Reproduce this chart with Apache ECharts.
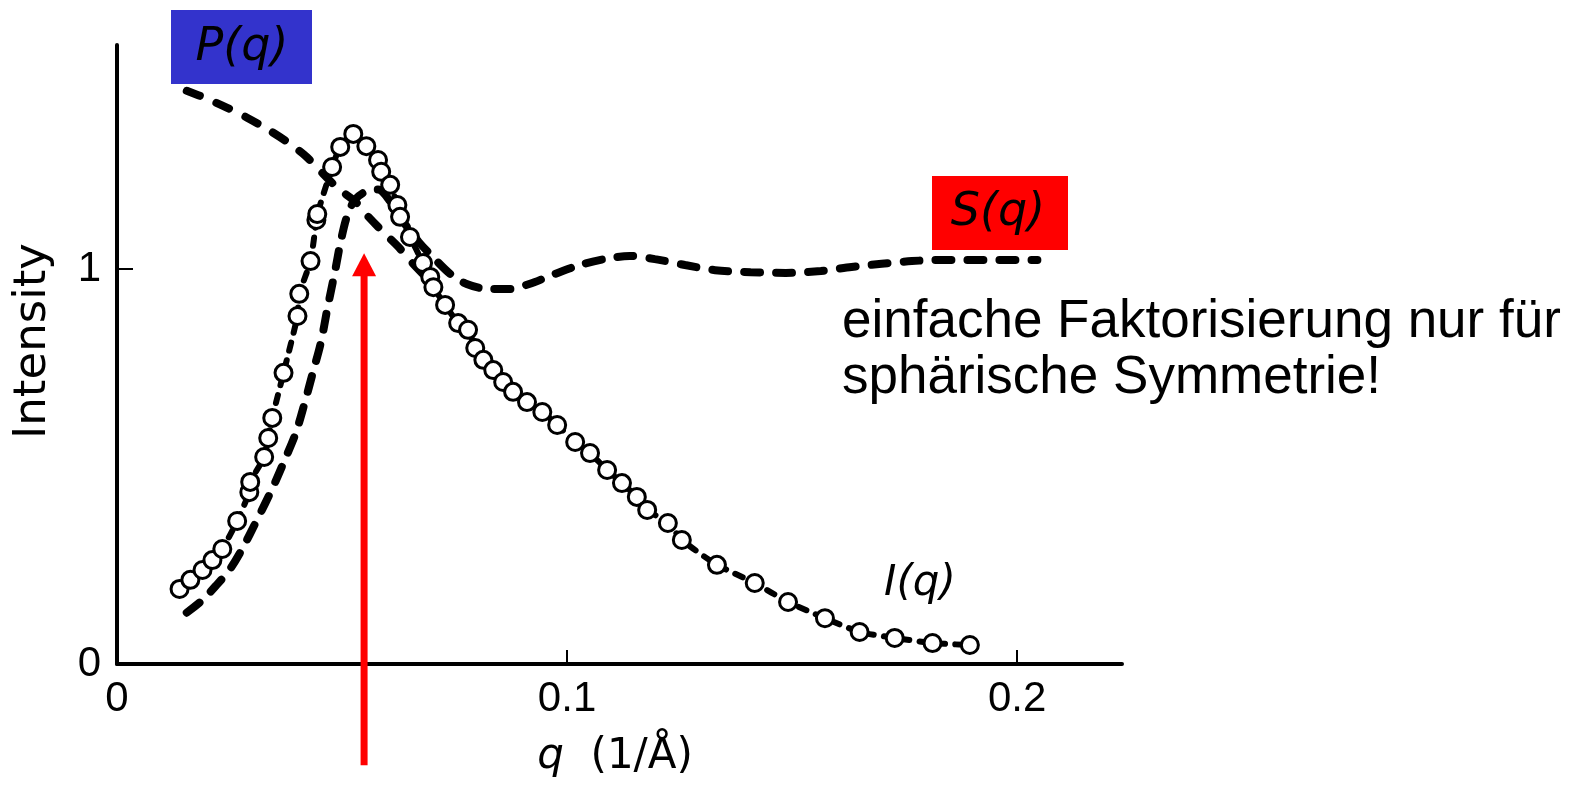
<!DOCTYPE html>
<html>
<head>
<meta charset="utf-8">
<script src="https://cdn.jsdelivr.net/npm/echarts@6/dist/echarts.min.js"></script>
<style>
  html, body { margin: 0; padding: 0; background: #ffffff; }
  #chart { width: 1580px; height: 787px; }
</style>
</head>
<body>
<div id="chart"></div>
<script>
// Measured scattering intensity I(q) (open circles)
const measQ = [0.0139, 0.0163, 0.0190, 0.0212, 0.0234, 0.0267, 0.0294, 0.0296, 0.0327, 0.0336,
  0.0345, 0.0370, 0.0401, 0.0405, 0.0430, 0.0443, 0.0445, 0.0478, 0.0496, 0.0525,
  0.0554, 0.0580, 0.0587, 0.0607, 0.0623, 0.0629, 0.0651, 0.0680, 0.0696, 0.0703,
  0.0729, 0.0758, 0.0780, 0.0796, 0.0814, 0.0836, 0.0858, 0.0880, 0.0911, 0.0945,
  0.0978, 0.1018, 0.1051, 0.1089, 0.1122, 0.1155, 0.1178, 0.1224, 0.1255, 0.1333,
  0.1417, 0.1491, 0.1573, 0.1650, 0.1728, 0.1812, 0.1895];
const measI = [0.190, 0.213, 0.238, 0.263, 0.291, 0.362, 0.435, 0.461, 0.524, 0.572,
  0.623, 0.737, 0.881, 0.937, 1.020, 1.124, 1.139, 1.258, 1.309, 1.342,
  1.311, 1.276, 1.246, 1.213, 1.162, 1.132, 1.081, 1.015, 0.980, 0.954,
  0.909, 0.863, 0.846, 0.800, 0.770, 0.744, 0.714, 0.689, 0.663, 0.638,
  0.605, 0.562, 0.534, 0.491, 0.458, 0.423, 0.390, 0.357, 0.314, 0.251,
  0.205, 0.157, 0.116, 0.081, 0.066, 0.053, 0.048];

// Form factor P(q) (dashed, decreasing)
const formQ = [0.0155, 0.0200, 0.0245, 0.0289, 0.0334, 0.0379, 0.0419, 0.0457, 0.0491, 0.0529,
  0.0558, 0.0591, 0.0625, 0.0658, 0.0690];
const formP = [1.451, 1.431, 1.408, 1.383, 1.354, 1.321, 1.286, 1.242, 1.204, 1.171,
  1.133, 1.094, 1.056, 1.013, 0.975];

// Structure factor S(q) (dashed, peak then oscillating about 1)
const structQ = [0.0155, 0.0189, 0.0222, 0.0251, 0.0278, 0.0312, 0.0345, 0.0374, 0.0397, 0.0417,
  0.0435, 0.0453, 0.0468, 0.0484, 0.0497, 0.0511, 0.0529, 0.0553, 0.0580, 0.0607,
  0.0636, 0.0670, 0.0708, 0.0741, 0.0777, 0.0826, 0.0871, 0.0916, 0.0972, 0.1028,
  0.1083, 0.1139, 0.1195, 0.1262, 0.1329, 0.1408, 0.1486, 0.1564, 0.1632, 0.1699,
  0.1766, 0.1833, 0.1911, 0.1978, 0.2045];
const structS = [0.130, 0.161, 0.201, 0.240, 0.291, 0.367, 0.444, 0.520, 0.584, 0.661,
  0.737, 0.814, 0.903, 0.992, 1.069, 1.133, 1.176, 1.196, 1.201, 1.171,
  1.120, 1.069, 1.023, 0.987, 0.962, 0.949, 0.949, 0.962, 0.987, 1.010,
  1.025, 1.033, 1.025, 1.010, 0.997, 0.992, 0.990, 0.995, 1.005, 1.013,
  1.020, 1.023, 1.023, 1.023, 1.023];

// Axis tick values
const xTicks = [0.1, 0.2];
const xLabels = [0, 0.1, 0.2];
const yTicks = [1];
const yLabels = [0, 1];

// Peak position marker (red arrow), in data units
const peakQ = 0.0549;
const arrowFrom = -0.256;
const arrowTo = 1.04;

const zip = (a, b) => a.map((v, i) => [v, b[i]]);

const tickFont = "'Liberation Sans', Arial, sans-serif";
const chart = echarts.init(document.getElementById('chart'), null, { renderer: 'canvas' });

chart.setOption({
  animation: false,
  backgroundColor: '#ffffff',
  grid: { left: 117, top: 45, width: 1005, height: 619, containLabel: false },
  xAxis: {
    type: 'value', min: 0, max: 0.2233,
    axisLine: { show: true, lineStyle: { color: '#000', width: 4 } },
    axisTick: { show: true, inside: true, length: 14, customValues: xTicks, lineStyle: { color: '#000', width: 2 } },
    axisLabel: { customValues: xLabels, margin: 14, color: '#000', fontSize: 42, fontFamily: tickFont,
      formatter: v => String(v) },
    splitLine: { show: false }
  },
  yAxis: {
    type: 'value', min: 0, max: 1.567,
    axisLine: { show: true, lineStyle: { color: '#000', width: 4 } },
    axisTick: { show: true, inside: true, length: 16, customValues: yTicks, lineStyle: { color: '#000', width: 2 } },
    axisLabel: { customValues: yLabels, margin: 16, color: '#000', fontSize: 42, fontFamily: tickFont,
      formatter: v => String(v) },
    splitLine: { show: false }
  },
  series: [
    {
      name: 'P(q)', type: 'line', data: zip(formQ, formP), smooth: 0.3,
      showSymbol: false, z: 2,
      lineStyle: { color: '#000', width: 8, type: [14, 18], cap: 'round' }
    },
    {
      name: 'S(q)', type: 'line', data: zip(structQ, structS), smooth: 0.3,
      showSymbol: false, z: 2,
      lineStyle: { color: '#000', width: 8, type: [16, 16], cap: 'round' }
    },
    {
      name: 'I(q)', type: 'line', data: zip(measQ, measI), smooth: 0.2,
      symbol: 'circle', symbolSize: 17, showAllSymbol: true, z: 3,
      itemStyle: { color: '#ffffff', borderColor: '#000', borderWidth: 3 },
      lineStyle: { color: '#000', width: 6, type: [8, 10], cap: 'round' }
    }
  ]
});

// Annotations drawn on top of the plot
function drawAnnotations() {
  const base = chart.convertToPixel({ gridIndex: 0 }, [peakQ, arrowFrom]);
  const tip = chart.convertToPixel({ gridIndex: 0 }, [peakQ, arrowTo]);
  const headH = 23, headW = 12;
  chart.setOption({
    graphic: [
      { type: 'line', z: 10, shape: { x1: base[0], y1: base[1], x2: tip[0], y2: tip[1] + headH - 2 },
        style: { stroke: '#ff0000', lineWidth: 7 } },
      { type: 'polygon', z: 10, shape: { points: [[tip[0], tip[1]], [tip[0] - headW, tip[1] + headH], [tip[0] + headW, tip[1] + headH]] },
        style: { fill: '#ff0000' } },
      { type: 'rect', z: 10, shape: { x: 171, y: 10, width: 141, height: 74 }, style: { fill: '#3333cc' } },
      { type: 'text', z: 11, x: 242, y: 48, style: { text: 'P(q)', fill: '#000', font: "italic 46px 'Liberation Sans Narrow', 'DejaVu Sans', sans-serif", align: 'center', verticalAlign: 'middle' } },
      { type: 'rect', z: 10, shape: { x: 932, y: 176, width: 136, height: 74 }, style: { fill: '#ff0000' } },
      { type: 'text', z: 11, x: 998, y: 213, style: { text: 'S(q)', fill: '#000', font: "italic 46px 'Liberation Sans Narrow', 'DejaVu Sans', sans-serif", align: 'center', verticalAlign: 'middle' } },
      { type: 'text', z: 11, x: 920, y: 584, style: { text: 'I(q)', fill: '#000', font: "italic 42px 'Liberation Sans Narrow', 'DejaVu Sans', sans-serif", align: 'center', verticalAlign: 'middle' } },
      { type: 'text', z: 11, x: 842, y: 322, style: { text: 'einfache Faktorisierung nur für', fill: '#000', font: "53px 'Liberation Sans', Arial, sans-serif", align: 'left', verticalAlign: 'middle' } },
      { type: 'text', z: 11, x: 842, y: 378, style: { text: 'sphärische Symmetrie!', fill: '#000', font: "53px 'Liberation Sans', Arial, sans-serif", align: 'left', verticalAlign: 'middle' } },
      { type: 'text', z: 11, x: 33, y: 341, rotation: Math.PI / 2, style: { text: 'Intensity', fill: '#000', font: "45px 'DejaVu Sans', sans-serif", align: 'center', verticalAlign: 'middle' } },
      { type: 'text', z: 11, x: 615, y: 757, style: { text: '{i|q}  (1/Å)', fill: '#000', font: "42px 'DejaVu Sans', sans-serif", align: 'center', verticalAlign: 'middle',
        rich: { i: { fontStyle: 'italic', fontSize: 42, fontFamily: "'DejaVu Sans', sans-serif" } } } }
    ]
  });
}
drawAnnotations();
</script>
</body>
</html>
